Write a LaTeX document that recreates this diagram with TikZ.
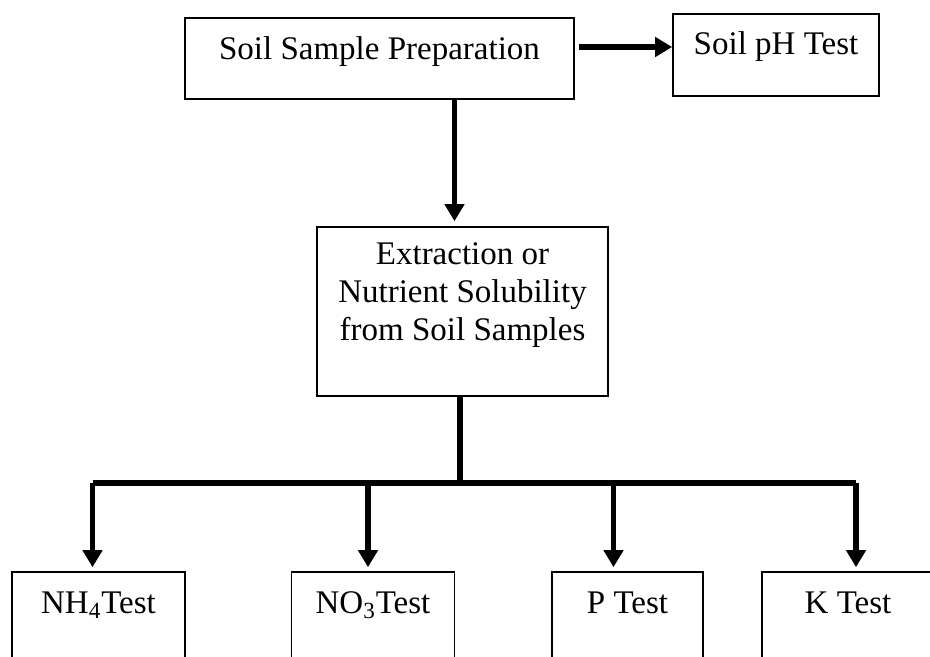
\documentclass[tikz,border=0pt]{standalone}
\usepackage{fontspec}
\setmainfont{Liberation Serif}
\usetikzlibrary{arrows.meta}
\begin{document}
\begin{tikzpicture}[x=0.5pt,y=-0.5pt, line join=miter,
	box/.style={draw, line width=0.8pt, inner sep=0pt, anchor=base, font=\fontsize{16.5}{18.75}\selectfont},
	arr/.style={line width=2.8pt, -{Triangle[width=9.5pt,length=8.5pt]}},
	bar/.style={line width=2.8pt}]
	\clip (0,0) rectangle (930,657);
	\node[box, minimum width=194.5pt, text height=21pt, text depth=19.5pt] (prep) at (379.5,60) {Soil Sample Preparation};
	\node[box, minimum width=103pt, text height=20.5pt, text depth=20.5pt] (ph) at (776,55) {Soil pH Test};
	\node[box, minimum width=145.5pt, align=center, text height=56.5pt, text depth=28pt] (extr) at (462.5,340) {Extraction or\\Nutrient Solubility\\from Soil Samples};
	\node[box, minimum width=86.5pt, text height=20.5pt, text depth=40pt] (nh) at (98.5,613) {NH\textsubscript{4}Test};
	\node[box, minimum width=81.5pt, text height=20.5pt, text depth=40pt] (no) at (373,613) {NO\textsubscript{3}Test};
	\node[box, minimum width=75.5pt, text height=20.5pt, text depth=40pt] (p) at (627.5,613) {P Test};
	\node[box, minimum width=86pt, text height=20.5pt, text depth=40pt] (k) at (848,613) {K Test};
	\coordinate (bar) at (460,483);
	\draw[arr] ([xshift=2pt,yshift=5.75pt]prep.east) -- ([yshift=4pt]ph.west);
	\draw[arr] ([xshift=-4pt]extr.north |- prep.south) -- ([xshift=-4pt,yshift=2.5pt]extr.north);
	\draw[bar] (extr.south -| bar) -- (bar);
	\draw[bar] ([xshift=-3pt]bar -| nh.north) -- ([xshift=4pt]bar -| k.north);
	\foreach \n/\s in {nh/-3, no/-2.5, p/-7, k/4}
		\draw[arr] ([xshift=\s pt]bar -| \n.north) -- ([xshift=\s pt,yshift=2pt]\n.north);
\end{tikzpicture}
\end{document}
